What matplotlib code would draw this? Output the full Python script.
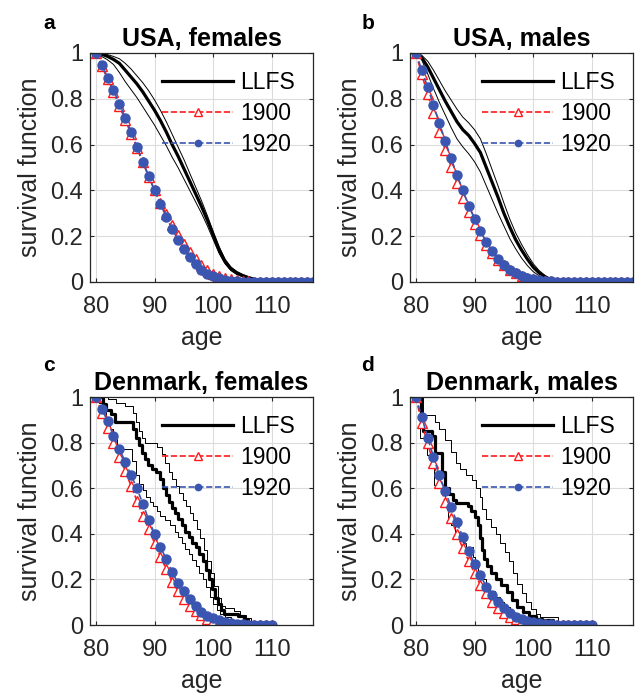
import matplotlib
matplotlib.use("Agg")
import matplotlib.pyplot as plt

plt.rcParams['font.family'] = ['Liberation Sans', 'DejaVu Sans']

# ---- data ----
usa_age = list(range(80, 118))

a_1900 = [1.0, 0.945, 0.885, 0.828, 0.768, 0.708, 0.647, 0.585, 0.522, 0.46,
          0.40, 0.345, 0.295, 0.25, 0.207, 0.166, 0.13, 0.099, 0.073, 0.053,
          0.037, 0.025, 0.017, 0.011, 0.007, 0.004, 0.003, 0.002, 0.001, 0.001,
          0, 0, 0, 0, 0, 0, 0, 0]
a_1920 = [1.0, 0.948, 0.893, 0.837, 0.779, 0.716, 0.657, 0.591, 0.526, 0.463,
          0.40, 0.341, 0.283, 0.231, 0.184, 0.143, 0.107, 0.077, 0.054, 0.037,
          0.025, 0.016, 0.010, 0.006, 0.0035, 0.002, 0.001, 0.0005,
          0, 0, 0, 0, 0, 0, 0, 0, 0, 0]
a_llfs = [1.0, 0.995, 0.985, 0.972, 0.955, 0.925, 0.895, 0.865, 0.83, 0.79,
          0.75, 0.705, 0.655, 0.60, 0.55, 0.495, 0.44, 0.385, 0.33, 0.27,
          0.205, 0.14, 0.09, 0.058, 0.04, 0.028, 0.019, 0.012, 0.007, 0.003,
          0.001, 0, 0, 0, 0, 0, 0, 0]
a_upper = [1.0, 1.0, 0.993, 0.985, 0.975, 0.955, 0.93, 0.90, 0.87, 0.835,
           0.795, 0.75, 0.70, 0.645, 0.59, 0.535, 0.475, 0.415, 0.355, 0.29,
           0.22, 0.155, 0.10, 0.066, 0.046, 0.033, 0.023, 0.015, 0.009, 0.004,
           0.002, 0, 0, 0, 0, 0, 0, 0]
a_lower = [1.0, 0.985, 0.97, 0.95, 0.915, 0.875, 0.84, 0.805, 0.765, 0.725,
           0.685, 0.64, 0.595, 0.545, 0.50, 0.45, 0.40, 0.35, 0.30, 0.245,
           0.185, 0.125, 0.08, 0.05, 0.033, 0.023, 0.015, 0.009, 0.005, 0.002,
           0, 0, 0, 0, 0, 0, 0, 0]

b_1900 = [1.0, 0.907, 0.82, 0.737, 0.657, 0.577, 0.504, 0.432, 0.366, 0.307,
          0.253, 0.205, 0.163, 0.127, 0.097, 0.073, 0.054, 0.039, 0.028, 0.019,
          0.013, 0.009, 0.006, 0.004, 0.002, 0.001, 0.001,
          0, 0, 0, 0, 0, 0, 0, 0, 0, 0, 0]
b_1920 = [1.0, 0.925, 0.851, 0.772, 0.694, 0.616, 0.54, 0.469, 0.40, 0.334,
          0.275, 0.221, 0.175, 0.135, 0.10, 0.073, 0.053, 0.038, 0.027, 0.018,
          0.012, 0.008, 0.005, 0.003, 0.002, 0.001,
          0, 0, 0, 0, 0, 0, 0, 0, 0, 0, 0, 0]
b_llfs = [1.0, 0.98, 0.94, 0.89, 0.84, 0.79, 0.745, 0.70, 0.665, 0.64,
          0.605, 0.565, 0.50, 0.435, 0.37, 0.30, 0.24, 0.185, 0.14, 0.10,
          0.065, 0.04, 0.022, 0.01, 0.003, 0,
          0, 0, 0, 0, 0, 0, 0, 0, 0, 0, 0, 0]
b_upper = [1.0, 0.99, 0.965, 0.925, 0.88, 0.835, 0.795, 0.755, 0.72, 0.695,
           0.665, 0.625, 0.56, 0.49, 0.42, 0.345, 0.275, 0.215, 0.165, 0.12,
           0.08, 0.05, 0.029, 0.014, 0.005, 0.001,
           0, 0, 0, 0, 0, 0, 0, 0, 0, 0, 0, 0]
b_lower = [1.0, 0.97, 0.91, 0.845, 0.785, 0.73, 0.675, 0.625, 0.59, 0.56,
           0.525, 0.48, 0.42, 0.36, 0.30, 0.245, 0.19, 0.145, 0.105, 0.072,
           0.045, 0.027, 0.014, 0.005, 0.001, 0,
           0, 0, 0, 0, 0, 0, 0, 0, 0, 0, 0, 0]

dk_age = list(range(80, 111))

c_1900 = [1.0, 0.93, 0.865, 0.80, 0.735, 0.675, 0.61, 0.545, 0.48, 0.42,
          0.36, 0.30, 0.245, 0.19, 0.15, 0.115, 0.085, 0.06, 0.042, 0.028,
          0.018, 0.011, 0.007, 0.004, 0.002, 0.001, 0, 0, 0, 0, 0]
c_1920 = [1.0, 0.949, 0.893, 0.831, 0.772, 0.716, 0.657, 0.599, 0.532, 0.462,
          0.40, 0.341, 0.29, 0.231, 0.185, 0.148, 0.113, 0.083, 0.058, 0.041,
          0.029, 0.02, 0.013, 0.008, 0.005, 0.003, 0.002, 0.001, 0, 0, 0]
c_llfs_age = [80, 81.3, 81.8, 82.6, 83.2, 86.3, 86.8, 87.3, 87.8, 88.3,
              88.9, 89.6, 90.3, 91.0, 91.4, 91.9, 92.4, 92.9, 93.5, 94.0,
              94.6, 95.2, 95.8, 96.4, 97.0, 97.6, 98.2, 98.8, 99.3, 99.8,
              100.3, 100.8, 101.3, 101.8, 104.3, 105.2, 106.0, 106.8]
c_llfs = [1.0, 0.97, 0.945, 0.925, 0.89, 0.86, 0.82, 0.79, 0.755, 0.73,
          0.70, 0.685, 0.67, 0.64, 0.60, 0.57, 0.54, 0.515, 0.49, 0.465,
          0.44, 0.41, 0.385, 0.36, 0.34, 0.31, 0.28, 0.24, 0.20, 0.16,
          0.12, 0.09, 0.065, 0.05, 0.04, 0.025, 0.01, 0.0]
c_upper_age = [80, 82.0, 83.5, 85.0, 86.3, 86.8, 87.3, 87.9, 88.4, 90.5,
               91.2, 91.8, 92.4, 93.0, 93.6, 94.2, 94.8, 95.4, 96.0, 96.6,
               97.2, 97.8, 98.4, 99.0, 99.6, 100.2, 100.8, 101.4, 102.0, 103.5,
               104.6, 105.6, 106.4, 107.2]
c_upper = [1.0, 0.99, 0.975, 0.96, 0.93, 0.89, 0.85, 0.82, 0.80, 0.78,
           0.75, 0.71, 0.67, 0.64, 0.61, 0.58, 0.55, 0.52, 0.49, 0.46,
           0.42, 0.38, 0.33, 0.28, 0.23, 0.17, 0.12, 0.085, 0.075, 0.06,
           0.045, 0.03, 0.015, 0.0]
c_lower_age = [80, 80.6, 81.2, 81.8, 82.4, 83.0, 83.6, 86.2, 86.8, 87.4,
               88.0, 88.6, 89.2, 89.8, 90.4, 91.0, 91.8, 92.6, 93.4, 94.0,
               94.6, 95.2, 95.8, 96.4, 97.0, 97.6, 98.2, 98.8, 99.4, 100.0,
               100.6, 101.2, 102.0, 103.0, 104.0, 105.0]
c_lower = [1.0, 0.975, 0.95, 0.90, 0.86, 0.83, 0.77, 0.72, 0.66, 0.62,
           0.59, 0.56, 0.54, 0.52, 0.50, 0.48, 0.46, 0.44, 0.41, 0.385,
           0.36, 0.335, 0.31, 0.285, 0.26, 0.23, 0.20, 0.165, 0.125, 0.09,
           0.065, 0.048, 0.033, 0.02, 0.008, 0.0]

d_1900 = [1.0, 0.885, 0.797, 0.709, 0.621, 0.541, 0.468, 0.399, 0.336, 0.282,
          0.227, 0.177, 0.139, 0.103, 0.074, 0.052, 0.037, 0.026, 0.018, 0.012,
          0.008, 0.005, 0.003, 0.002, 0.001, 0.001, 0, 0, 0, 0, 0]
d_1920 = [1.0, 0.913, 0.822, 0.737, 0.656, 0.586, 0.518, 0.45, 0.385, 0.325,
          0.268, 0.218, 0.168, 0.132, 0.10, 0.073, 0.052, 0.037, 0.027, 0.018,
          0.012, 0.008, 0.005, 0.003, 0.002, 0.001, 0, 0, 0, 0, 0]
d_llfs_age = [80, 80.9, 81.3, 82.8, 83.3, 84.5, 85.0, 85.6, 86.3, 86.9,
              88.9, 89.4, 90.0, 90.6, 90.9, 91.2, 91.6, 92.1, 92.8, 93.6,
              94.5, 95.5, 96.4, 97.2, 98.2, 99.3, 100.5, 101.5, 103.3, 104.0]
d_llfs = [1.0, 0.92, 0.85, 0.83, 0.755, 0.67, 0.60, 0.575, 0.55, 0.535,
          0.52, 0.50, 0.475, 0.44, 0.38, 0.33, 0.29, 0.26, 0.23, 0.20,
          0.175, 0.145, 0.11, 0.08, 0.055, 0.04, 0.025, 0.02, 0.008, 0.0]
d_upper_age = [80, 81.3, 83.2, 84.0, 85.0, 86.0, 86.8, 87.6, 88.6, 89.5,
               90.3, 90.9, 91.3, 92.0, 92.8, 93.6, 94.4, 95.2, 95.9, 96.6,
               97.3, 98.0, 98.8, 99.6, 100.4, 101.2, 104.2, 105.0]
d_upper = [1.0, 0.92, 0.89, 0.86, 0.81, 0.76, 0.71, 0.685, 0.66, 0.635,
           0.60, 0.56, 0.51, 0.465, 0.43, 0.40, 0.36, 0.32, 0.28, 0.23,
           0.18, 0.14, 0.10, 0.07, 0.05, 0.035, 0.015, 0.0]
d_lower_age = [80, 80.7, 81.9, 82.5, 83.1, 84.5, 85.0, 85.5, 86.0, 86.6,
               87.3, 88.0, 88.6, 89.7, 90.1, 90.6, 91.2, 91.9, 92.7, 93.5,
               94.3, 95.1, 96.0, 96.8, 97.7, 98.6, 99.5, 100.5, 101.5]
d_lower = [1.0, 0.82, 0.745, 0.69, 0.615, 0.585, 0.53, 0.47, 0.44, 0.41,
           0.385, 0.36, 0.34, 0.30, 0.26, 0.23, 0.2, 0.175, 0.15, 0.125,
           0.1, 0.08, 0.06, 0.045, 0.03, 0.02, 0.01, 0.004, 0.0]

titles = ["USA, females", "USA, males", "Denmark, females", "Denmark, males"]
letters = ["a", "b", "c", "d"]
yticks = [0, 0.2, 0.4, 0.6, 0.8, 1]
ytick_labels = ["0", "0.2", "0.4", "0.6", "0.8", "1"]
xticks = [80, 90, 100, 110]

RED = "#ff1a1a"
BLUE = "#3a56b0"
INK = "#262626"

fig = plt.figure(figsize=(6.36, 6.97), dpi=100)

positions = [
    [90 / 636, 1 - 282 / 697, 223 / 636, 229 / 697],
    [410 / 636, 1 - 282 / 697, 223 / 636, 229 / 697],
    [90 / 636, 1 - 625 / 697, 223 / 636, 228 / 697],
    [410 / 636, 1 - 625 / 697, 223 / 636, 228 / 697],
]
letter_pos = [(49, 29), (368, 29), (49, 371), (368, 371)]

panels = [
    dict(age=usa_age, s1900=a_1900, s1920=a_1920, step=False,
         llfs=(usa_age, a_llfs), up=(usa_age, a_upper), lo=(usa_age, a_lower)),
    dict(age=usa_age, s1900=b_1900, s1920=b_1920, step=False,
         llfs=(usa_age, b_llfs), up=(usa_age, b_upper), lo=(usa_age, b_lower)),
    dict(age=dk_age, s1900=c_1900, s1920=c_1920, step=True,
         llfs=(c_llfs_age, c_llfs), up=(c_upper_age, c_upper),
         lo=(c_lower_age, c_lower)),
    dict(age=dk_age, s1900=d_1900, s1920=d_1920, step=True,
         llfs=(d_llfs_age, d_llfs), up=(d_upper_age, d_upper),
         lo=(d_lower_age, d_lower)),
]

for i, p in enumerate(panels):
    ax = fig.add_axes(positions[i])
    ds = "steps-post" if p["step"] else "default"

    ax.plot(*p["up"], color="black", lw=0.7, drawstyle=ds)
    ax.plot(*p["lo"], color="black", lw=0.7, drawstyle=ds)
    ax.plot(*p["llfs"], color="black", lw=2.3, drawstyle=ds, label="LLFS")

    ax.plot(p["age"], p["s1900"], "--", color=RED, lw=1.2, marker="^",
            ms=7.5, mfc="white", mec=RED, mew=1.0, label="1900")
    ax.plot(p["age"], p["s1920"], "--", color=BLUE, lw=1.2, marker="o",
            ms=6.5, mfc=BLUE, mec=BLUE, label="1920")

    ax.set_xlim(79, 117)
    ax.set_ylim(0, 1)
    ax.set_xticks(xticks)
    ax.set_yticks(yticks)
    ax.set_yticklabels(ytick_labels)
    ax.grid(True, color="#dcdcdc", lw=0.8)
    ax.set_axisbelow(True)
    ax.tick_params(direction="in", length=3, top=True, right=True,
                   labelsize=17, colors=INK, width=0.8)
    ax.tick_params(axis="x", pad=10)
    ax.tick_params(axis="y", pad=5)
    for sp in ax.spines.values():
        sp.set_color(INK)
        sp.set_linewidth(0.9)

    ax.set_title(titles[i], fontsize=18, fontweight="bold", pad=5)
    ax.set_xlabel("age", fontsize=18, color=INK, labelpad=6)
    ax.set_ylabel("survival function", fontsize=18, color=INK, labelpad=6)

    leg = ax.legend(loc="upper right", frameon=False, fontsize=16.5,
                    handlelength=3.1, handletextpad=0.3, labelspacing=0.35,
                    borderaxespad=0.4, numpoints=1, markerscale=0.7)

    fig.text(letter_pos[i][0] / 636, 1 - letter_pos[i][1] / 697, letters[i],
             fontsize=15, fontweight="bold", ha="center", va="baseline")

fig.savefig("out.png", dpi=100)
